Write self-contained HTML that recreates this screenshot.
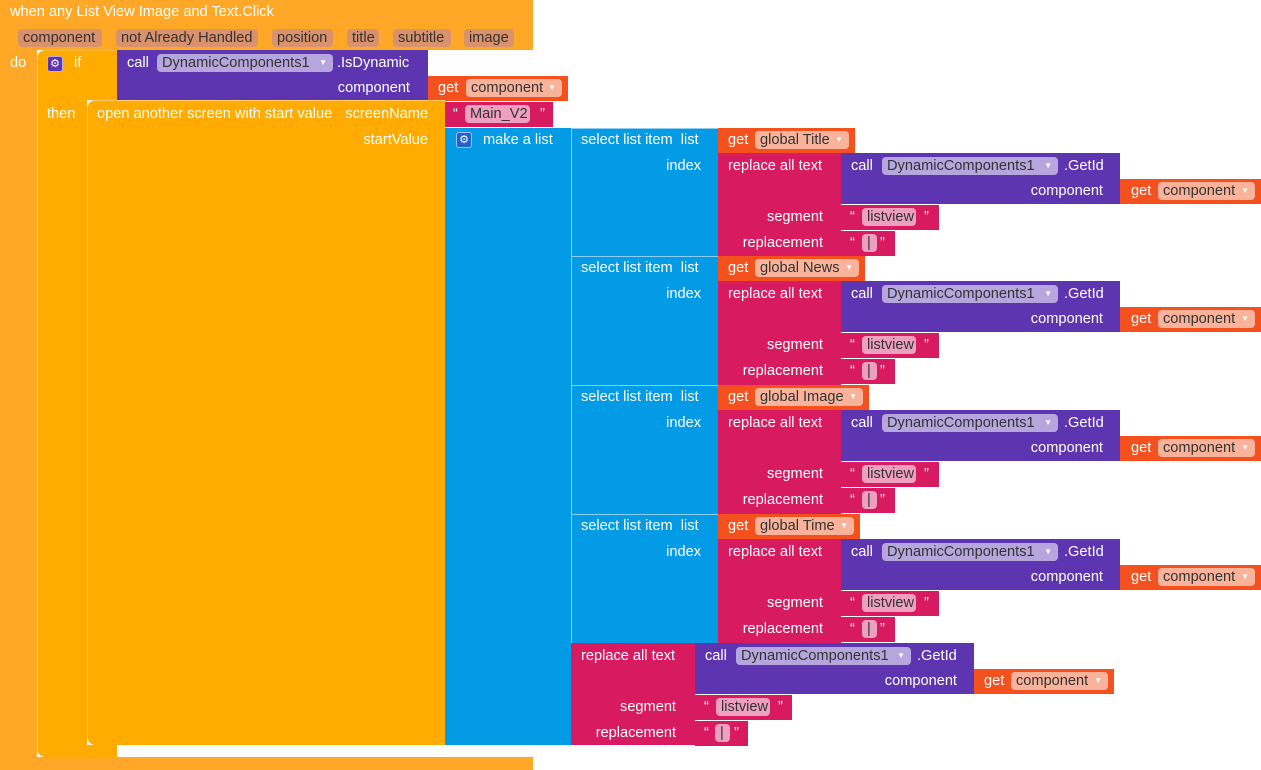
<!DOCTYPE html>
<html><head><meta charset="utf-8">
<style>
html,body{margin:0;padding:0;background:#fff;width:1261px;height:770px;overflow:hidden}
#ws{position:relative;width:1261px;height:770px;font-family:"Liberation Sans",sans-serif;font-size:14.6px}
.b{position:absolute;box-sizing:border-box}
.t{position:absolute;color:#fff;white-space:pre;line-height:16px}
.p{position:absolute;height:18px;line-height:18px;border-radius:4px;color:#333;padding-left:5px;box-sizing:border-box;white-space:nowrap;overflow:hidden}
.dd{position:absolute;right:6px;top:0;font-size:8px;color:#fff}
</style></head>
<body>
<div id="ws"></div>
<script>
const ws=document.getElementById('ws');
const EV='#FFA726',CT='#FFAB00',PU='#5E35B1',OR='#F4511E',PK='#D81B60',BL='#039BE5';
function box(x,y,w,h,c,name,extra){
  const el=document.createElement('div');
  el.className='b';
  el.style.cssText=`left:${x}px;top:${y}px;width:${w}px;height:${h}px;background:${c};`+(extra||'');
  
  
  ws.appendChild(el);return el;
}
function lab(x,cy,txt,name,right){
  const el=document.createElement('div');
  el.className='t';el.textContent=txt;
  if(right){el.style.right=(1261-x)+'px';}else{el.style.left=x+'px';}
  el.style.top=(cy-8)+'px';
  
  
  ws.appendChild(el);return el;
}
function pill(x,cy,w,txt,bg,name,dd){
  const el=document.createElement('div');
  el.className='p';el.style.cssText=`left:${x}px;top:${cy-9}px;width:${w}px;background:${bg};`;
  el.textContent=txt;
  if(dd){const d=document.createElement('span');d.className='dd';d.textContent='▼';el.appendChild(d);}
  
  
  ws.appendChild(el);return el;
}
function gear(x,y,c,name){
  const el=box(x,y,16,16,c,name,'border-radius:3px;border:1px solid rgba(255,255,255,.6);color:#fff;font-size:11px;line-height:14px;text-align:center;');
  el.textContent='⚙';
}
// event block
box(0,0,533,50,EV,'event-header');
box(0,50,37,720,EV,'event-do-column');
box(0,757,533,13,EV,'event-bottom','border-radius:0 0 0 8px');
lab(10,12,'when any List View Image and Text.Click','event-title');
const params=[['component',18,84],['not Already Handled',116,142],['position',272,61],['title',347,32],['subtitle',393,58],['image',464,50]];
for(const [n,x,w] of params){pill(x,38,w,n,'#D9926C','param-'+n.replace(/ /g,'-').toLowerCase());}
lab(10,63,'do','do-label');
// if block
box(37,50,80,50,CT,'if-header','border-radius:8px 0 0 0;border-top:1px solid #fff3;border-left:1px solid #fff6');
box(37,100,50,645,CT,'if-left','border-left:1px solid #fff6');
box(37,745,80,12,CT,'if-bottom','border-radius:0 0 0 8px;border-left:1px solid #fff6');
gear(47,56,PU,'if-mutator-icon');
lab(74,63,'if','if-label');
lab(47,114,'then','then-label');
// IsDynamic
box(117,50,311,51,PU,'call-isdynamic-block');
lab(127,63,'call','call-label');
pill(157,63,176,'DynamicComponents1','#B7A6DE','component-dropdown',1);
lab(337,63,'.IsDynamic','isdynamic-label');
lab(410,88,'component','component-socket-label',1);
box(428,76,140,25,OR,'get-component-block');
lab(438,88,'get','get-label');
pill(466,88,96,'component','#F9B39B','get-component-dropdown',1);
// open another screen
box(87,100,358,645,CT,'open-screen-block','border-radius:8px 0 0 8px;border-top:1px solid #fff6;border-left:1px solid #fff6');
lab(97,114,'open another screen with start value','open-screen-label');
lab(428,114,'screenName','screenname-label',1);
lab(428,140,'startValue','startvalue-label',1);
box(445,102,108,25,PK,'text-main-v2-block');
lab(453,114,'“','quote-open');
pill(465,114,65,'Main_V2','#EFA0C0','text-main-v2');
lab(540,114,'”','quote-close');
// make a list
box(445,128,126,617,BL,'make-a-list-block');
gear(456,132,'#1E63D0','make-list-mutator-icon');
lab(483,140,'make a list','make-a-list-label');
const globals=['Title','News','Image','Time'];
const gw=[137,147,151,142];
for(let i=0;i<4;i++){
  const y=128+128.67*i|0;
  box(571,y,147,129,BL,'select-list-item-'+i,'border-top:1px solid #fff8;border-left:1px solid #fff8');
  lab(581,y+12,'select list item  list','select-list-item-label');
  lab(701,y+38,'index','index-label',1);
  box(718,y,gw[i],25,OR,'get-global-'+globals[i].toLowerCase());
  lab(728,y+12,'get','get-label');
  pill(755,y+12,gw[i]-43,'global '+globals[i],'#F9B39B','global-dropdown',1);
  box(718,y+25,123,104,PK,'replace-all-text-'+i);
  lab(728,y+38,'replace all text','replace-all-text-label');
  box(841,y+25,279,51,PU,'call-getid-'+i);
  lab(851,y+38,'call','call-label');
  pill(882,y+38,176,'DynamicComponents1','#B7A6DE','component-dropdown',1);
  lab(1064,y+38,'.GetId','getid-label');
  lab(1103,y+63,'component','component-socket-label',1);
  box(1120,y+51,141,25,OR,'get-component-block');
  lab(1131,y+63,'get','get-label');
  pill(1158,y+63,97,'component','#F9B39B','get-component-dropdown',1);
  lab(823,y+89,'segment','segment-label',1);
  box(841,y+77,98,25,PK,'text-listview-block');
  lab(850,y+89,'“','quote-open');
  pill(862,y+89,54,'listview','#EFA0C0','text-listview');
  lab(924,y+89,'”','quote-close');
  lab(823,y+115,'replacement','replacement-label',1);
  box(841,y+103,54,25,PK,'text-pipe-block');
  lab(850,y+115,'“','quote-open');
  pill(862,y+115,15,'|','#EFA0C0','text-pipe');
  lab(880,y+115,'”','quote-close');
}
// last replace all text
box(571,643,124,102,PK,'replace-all-text-last');
lab(581,656,'replace all text','replace-all-text-label');
box(695,643,279,51,PU,'call-getid-last');
lab(705,656,'call','call-label');
pill(736,656,175,'DynamicComponents1','#B7A6DE','component-dropdown',1);
lab(917,656,'.GetId','getid-label');
lab(957,681,'component','component-socket-label',1);
box(974,669,140,25,OR,'get-component-block');
lab(984,681,'get','get-label');
pill(1011,681,97,'component','#F9B39B','get-component-dropdown',1);
lab(676,707,'segment','segment-label',1);
box(695,695,97,25,PK,'text-listview-block');
lab(704,707,'“','quote-open');
pill(716,707,54,'listview','#EFA0C0','text-listview');
lab(778,707,'”','quote-close');
lab(676,733,'replacement','replacement-label',1);
box(695,721,53,25,PK,'text-pipe-block');
lab(704,733,'“','quote-open');
pill(715,733,15,'|','#EFA0C0','text-pipe');
lab(734,733,'”','quote-close');
</script>
</body></html>
